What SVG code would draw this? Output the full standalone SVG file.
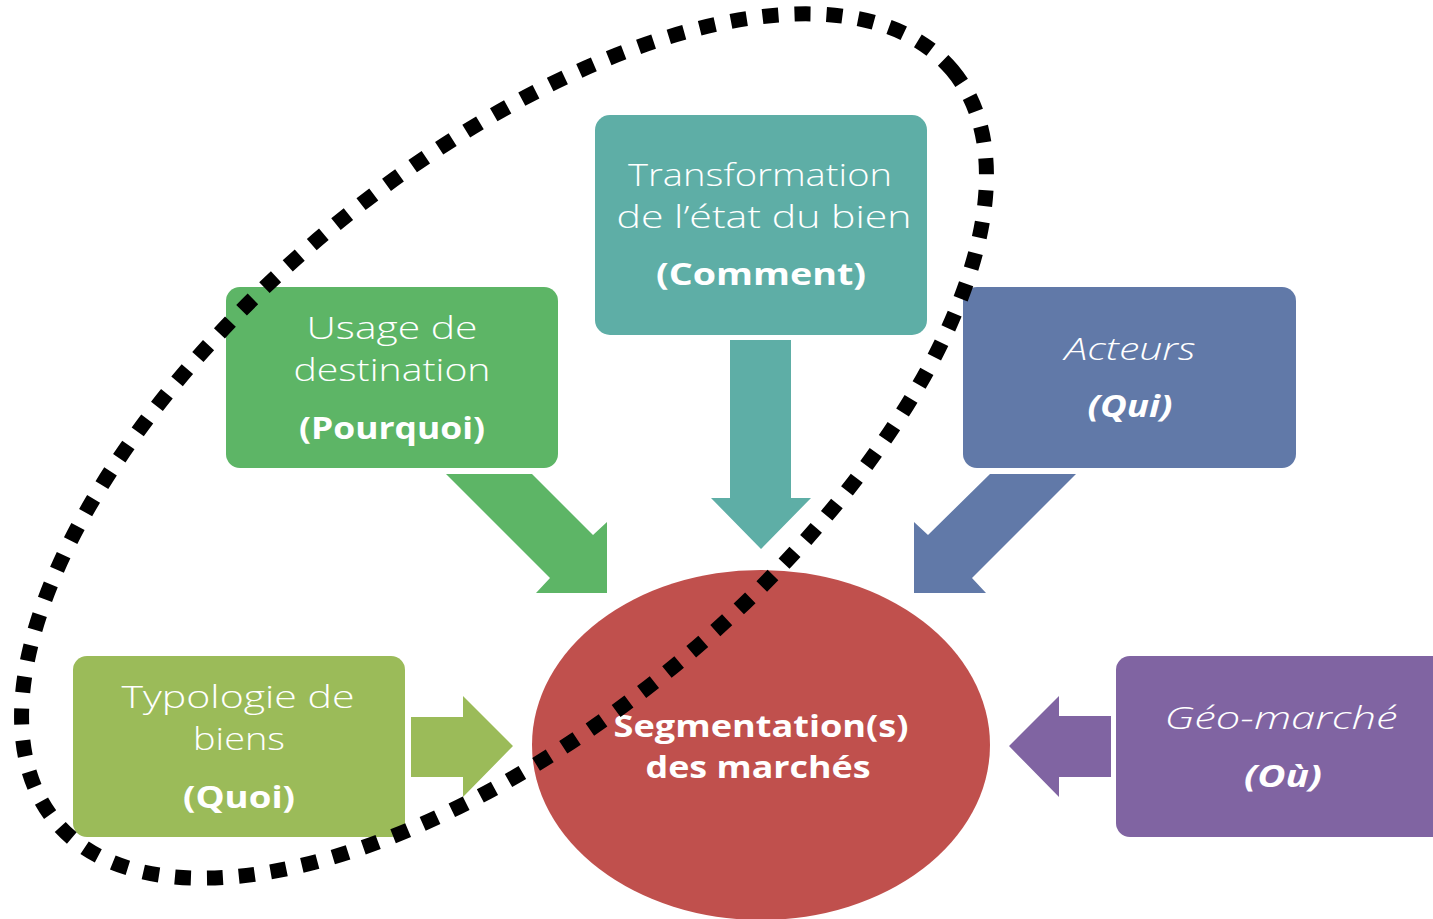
<svg xmlns="http://www.w3.org/2000/svg" width="1433" height="919" viewBox="0 0 1433 919">
<style>
text{font-family:"Century Gothic","Open Sans","DejaVu Sans",sans-serif;fill:#fff;font-size:31px;text-anchor:middle;font-weight:300}
.b{font-weight:bold}
.i{font-style:italic}
</style>
<rect width="1433" height="919" fill="#fff"/>
<g id="connectors">
<polygon fill="#5EAEA6" points="730,340 791,340 791,498 811,498 761,549 711,498 730,498"/>
<polygon fill="#5DB566" points="446,474 532,474 593,535 607,522 607,593 536,593 550,578"/>
<polygon fill="#6179A8" points="990,474 1076,474 972,578 986,593 914,593 914,522 928,535"/>
<polygon fill="#9BBB59" points="411,717 463,717 463,696 513,746 463,797 463,777 411,777"/>
<polygon fill="#8064A2" points="1111,716 1059,716 1059,696 1009,746 1059,797 1059,777 1111,777"/>
</g>
<g id="center">
<ellipse cx="761" cy="745" rx="229" ry="175" fill="#C0504D"/>
<text class="b" x="761" y="737" textLength="295" lengthAdjust="spacingAndGlyphs">Segmentation(s)</text>
<text class="b" x="758" y="778" textLength="225" lengthAdjust="spacingAndGlyphs">des marchés</text>
</g>
<g id="comment">
<rect x="595" y="115" width="332" height="220" rx="15" fill="#5EAEA6"/>
<text x="760" y="186" textLength="264" lengthAdjust="spacingAndGlyphs">Transformation</text>
<text x="764" y="228" textLength="295" lengthAdjust="spacingAndGlyphs">de l’état du bien</text>
<text class="b" x="761" y="285" textLength="210" lengthAdjust="spacingAndGlyphs">(Comment)</text>
</g>
<g id="pourquoi">
<rect x="226" y="287" width="332" height="181" rx="14" fill="#5DB566"/>
<text x="392" y="339" textLength="171" lengthAdjust="spacingAndGlyphs">Usage de</text>
<text x="392" y="381" textLength="197" lengthAdjust="spacingAndGlyphs">destination</text>
<text class="b" x="392" y="439" textLength="186" lengthAdjust="spacingAndGlyphs">(Pourquoi)</text>
</g>
<g id="qui">
<rect x="963" y="287" width="333" height="181" rx="14" fill="#6179A8"/>
<text class="i" x="1130" y="360" textLength="131" lengthAdjust="spacingAndGlyphs">Acteurs</text>
<text class="b i" x="1130" y="417" textLength="85" lengthAdjust="spacingAndGlyphs">(Qui)</text>
</g>
<g id="quoi">
<rect x="73" y="656" width="332" height="181" rx="14" fill="#9BBB59"/>
<text x="238" y="708" textLength="233" lengthAdjust="spacingAndGlyphs">Typologie de</text>
<text x="239" y="750" textLength="92" lengthAdjust="spacingAndGlyphs">biens</text>
<text class="b" x="239" y="808" textLength="112" lengthAdjust="spacingAndGlyphs">(Quoi)</text>
</g>
<g id="ou">
<rect x="1116" y="656" width="340" height="181" rx="14" fill="#8064A2"/>
<text class="i" x="1281" y="729" textLength="233" lengthAdjust="spacingAndGlyphs">Géo-marché</text>
<text class="b i" x="1283" y="787" textLength="78" lengthAdjust="spacingAndGlyphs">(Où)</text>
</g>
<g id="scope">
<ellipse cx="504" cy="446" rx="585" ry="278" transform="rotate(-40 504 446)" fill="none" stroke="#000" stroke-width="15" stroke-dasharray="16 16"/>
</g>
</svg>
